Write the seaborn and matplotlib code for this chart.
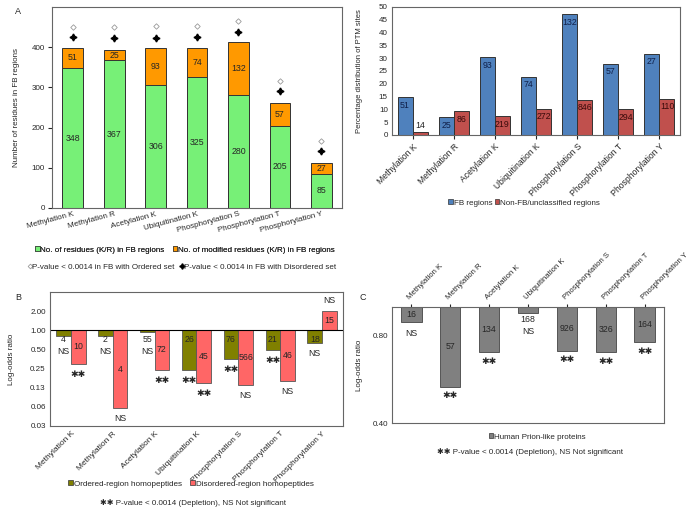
import matplotlib
matplotlib.use("Agg")
import matplotlib.pyplot as plt
import matplotlib.patches as mpatches
from matplotlib.lines import Line2D
import numpy as np
import pandas as pd
import seaborn as sns

# categories shared by all panels
ptm = ["Methylation K", "Methylation R", "Acetylation K", "Ubiquitination K",
       "Phosphorylation S", "Phosphorylation T", "Phosphorylation Y"]

# A: residues in FB regions (stacked)
fb_residues = [348, 367, 306, 325, 280, 205, 85]
fb_modified = [51, 25, 93, 74, 132, 57, 27]
pval_ordered_A = [450, 450, 452, 452, 465, 316, 167]
pval_disordered_A = [425, 422, 424, 426, 437, 291, 142]

# top right: percentage distribution of PTM sites
pct_fb = [14.8, 6.9, 30.4, 22.7, 47.2, 27.8, 31.8]
pct_nonfb = [1.2, 9.3, 7.4, 10.3, 13.7, 10.0, 14.2]
n_fb = [51, 25, 93, 74, 132, 57, 27]
n_nonfb = [14, 86, 219, 272, 846, 294, 110]

# B: homopeptides log-odds ratio
lor_ordered = [0.81, 0.81, 0.93, 0.235, 0.36, 0.49, 0.62]
lor_disordered = [0.30, 0.059, 0.24, 0.149, 0.137, 0.16, 2.0]
n_ordered = [4, 2, 55, 26, 76, 21, 18]
n_disordered = [10, 4, 72, 45, 566, 46, 15]
sig_ordered = ["NS", "NS", "NS", "**", "**", "**", "NS"]
sig_disordered = ["**", "NS", "**", "**", "NS", "NS", "NS"]
B_ticklabels = ["0.03", "0.06", "0.13", "0.25", "0.50", "1.00", "2.00"]

# C: human prion-like proteins
lor_prion = [0.89, 0.533, 0.70, 0.954, 0.707, 0.70, 0.758]
n_prion = [16, 57, 134, 168, 926, 326, 164]
sig_prion = ["NS", "**", "**", "NS", "**", "**", "**"]
C_tickvals = [0.40, 0.80]
C_ticklabels = ["0.40", "0.80"]

GREEN, ORANGE = "#77f077", "#ff9900"
BLUE, RED = "#4f81bd", "#c0504d"
OLIVE, PINK = "#808000", "#ff6666"
GREY = "#808080"
EDGE = "#333333"
STARS = "\u2731\u2731"
FS = 5.8      # general text size
FL = 6.3      # bar label size

sns.set_style("white")
plt.rcParams["font.family"] = ["Liberation Sans", "DejaVu Sans"]
plt.rcParams["font.size"] = FS

W, H = 693, 513
fig = plt.figure(figsize=(W / 100, H / 100), dpi=100)


def box(x0, y0, x1, y1):
    # pixel box -> figure fraction
    return [x0 / W, 1 - y1 / H, (x1 - x0) / W, (y1 - y0) / H]


def frame(ax):
    for s in ax.spines.values():
        s.set_visible(True)
        s.set_color("#666666")
        s.set_linewidth(0.8)


def px_len(ax, v):
    a = ax.transData.transform((0, v))[1]
    b = ax.transData.transform((0, 0))[1]
    return abs(a - b)


def sig_text(s):
    return STARS if s == "**" else s


def sig_size(s):
    return 6.6 if s == "**" else FL


# ---------------- A ----------------
axA = fig.add_axes(box(52, 7, 342, 208))
dfA = pd.DataFrame({"ptm": ptm, "fb": fb_residues, "mod": fb_modified})
dfA["total"] = dfA["fb"] + dfA["mod"]
sns.barplot(data=dfA, x="ptm", y="total", color=ORANGE, saturation=1, width=0.5,
            edgecolor=EDGE, linewidth=0.7, errorbar=None, ax=axA)
sns.barplot(data=dfA, x="ptm", y="fb", color=GREEN, saturation=1, width=0.5,
            edgecolor=EDGE, linewidth=0.7, errorbar=None, ax=axA)
for i, (g, m) in enumerate(zip(fb_residues, fb_modified)):
    axA.text(i, g / 2, str(g), ha="center", va="center", fontsize=FL)
    axA.text(i, g + m / 2, str(m), ha="center", va="center", fontsize=FL)
x = np.arange(len(ptm))
axA.plot(x, pval_ordered_A, ls="none", marker="D", ms=2.8, mfc="white", mec="#999999", mew=0.6)
axA.plot(x, pval_disordered_A, ls="none", marker=(4, 1, 0), ms=5, color="black")
axA.set_ylim(0, 500)
axA.set_xlim(-0.5, 6.5)
axA.set_yticks([0, 100, 200, 300, 400])
axA.set_xlabel("")
axA.set_ylabel("Number of residues in FB regions", fontsize=FS)
axA.yaxis.set_label_coords(-0.11, 0.5)
axA.tick_params(axis="y", length=3, labelsize=FS, pad=2, left=True)
axA.tick_params(axis="x", length=0, labelsize=FS, pad=2)
plt.setp(axA.get_xticklabels(), rotation=15, ha="right", rotation_mode="anchor")
frame(axA)
fig.text(18 / W, 1 - 12 / H, "A", fontsize=6.5, ha="center", va="center")

legA1 = fig.legend(handles=[mpatches.Patch(fc=GREEN, ec=EDGE, lw=0.5, label="No. of residues (K/R) in FB regions"),
                            mpatches.Patch(fc=ORANGE, ec=EDGE, lw=0.5, label="No. of modified residues (K/R) in FB regions")],
                   loc="center", bbox_to_anchor=(185 / W, 1 - 250 / H), ncol=2, frameon=False,
                   handlelength=0.55, handleheight=0.55, handletextpad=0.1, columnspacing=1.0, fontsize=FS)
fig.add_artist(legA1)
fig.legend(handles=[Line2D([], [], ls="none", marker="D", ms=2.4, mfc="white", mec="#999999", mew=0.6,
                           label="P-value < 0.0014 in FB with Ordered set"),
                    Line2D([], [], ls="none", marker=(4, 1, 0), ms=4, color="black",
                           label="P-value < 0.0014 in FB with Disordered set")],
           loc="center", bbox_to_anchor=(182 / W, 1 - 267 / H), ncol=2, frameon=False,
           handlelength=0.5, handletextpad=0.1, columnspacing=0.6, fontsize=FS)

# ---------------- top right ----------------
axT = fig.add_axes(box(392, 7, 680, 135))
dfT = pd.DataFrame({"ptm": ptm * 2, "pct": pct_fb + pct_nonfb,
                    "region": ["FB regions"] * 7 + ["Non-FB/unclassified regions"] * 7})
sns.barplot(data=dfT, x="ptm", y="pct", hue="region", palette=[BLUE, RED], saturation=1,
            width=0.73, edgecolor=EDGE, linewidth=0.7, errorbar=None, legend=False, ax=axT)
axT.set_ylim(0, 50)
axT.set_xlim(-0.5, 6.5)
axT.set_yticks(range(0, 51, 5))
for cont, counts, col in zip(axT.containers, [n_fb, n_nonfb], ["#10204a", "#3a0a0a"]):
    for bar, n in zip(cont, counts):
        cx = bar.get_x() + bar.get_width() / 2
        top = bar.get_height()
        if px_len(axT, top) < 14:
            axT.annotate(str(n), (cx, top), xytext=(0, 6), textcoords="offset pixels",
                         ha="center", va="center", fontsize=FL, color="#222222")
        else:
            axT.annotate(str(n), (cx, top), xytext=(0, -8), textcoords="offset pixels",
                         ha="center", va="center", fontsize=FL, color=col)
axT.set_xlabel("")
axT.set_ylabel("Percentage distribution of PTM sites", fontsize=5.5)
axT.yaxis.set_label_coords(-0.10, 0.5)
axT.tick_params(axis="y", length=0, labelsize=FS, pad=3)
axT.tick_params(axis="x", length=3, labelsize=6.2, pad=2, bottom=True)
plt.setp(axT.get_xticklabels(), rotation=45, ha="right", rotation_mode="anchor")
frame(axT)
fig.legend(handles=[mpatches.Patch(fc=BLUE, ec=EDGE, lw=0.5, label="FB regions"),
                    mpatches.Patch(fc=RED, ec=EDGE, lw=0.5, label="Non-FB/unclassified regions")],
           loc="center", bbox_to_anchor=(524 / W, 1 - 203 / H), ncol=2, frameon=False,
           handlelength=0.55, handleheight=0.55, handletextpad=0.1, columnspacing=0.3, fontsize=FS)

# ---------------- B ----------------
axB = fig.add_axes(box(50, 292, 343, 426))
dfB = pd.DataFrame({"ptm": ptm * 2, "lor": np.log2(lor_ordered + lor_disordered),
                    "set": ["Ordered-region homopeptides"] * 7 + ["Disordered-region homopeptides"] * 7})
sns.barplot(data=dfB, x="ptm", y="lor", hue="set", palette=[OLIVE, PINK], saturation=1,
            width=0.7, edgecolor="#555555", linewidth=0.6, errorbar=None, legend=False, ax=axB)
axB.set_xlim(-0.5, 6.5)
axB.set_yticks(np.arange(-5, 2))
axB.set_yticklabels(B_ticklabels)
axB.set_ylim(-5, 2)
axB.axhline(0, color="black", lw=0.8)
for bar, n, s in zip(axB.containers[0], n_ordered, sig_ordered):
    cx = bar.get_x() + bar.get_width() / 2
    d = px_len(axB, bar.get_height())
    axB.annotate(str(n), (cx, 0), xytext=(0, -9.5), textcoords="offset pixels",
                 ha="center", va="center", fontsize=FL)
    axB.annotate(sig_text(s), (cx, 0), xytext=(0, -max(d + 10.5, 21)), textcoords="offset pixels",
                 ha="center", va="center", fontsize=sig_size(s))
for bar, n, s in zip(axB.containers[1], n_disordered, sig_disordered):
    cx = bar.get_x() + bar.get_width() / 2
    h = bar.get_height()
    axB.text(cx, h / 2, str(n), ha="center", va="center", fontsize=FL)
    axB.annotate(sig_text(s), (cx, h), xytext=(0, 10.5 if h > 0 else -10.5), textcoords="offset pixels",
                 ha="center", va="center", fontsize=sig_size(s))
axB.set_xlabel("")
axB.set_ylabel("Log-odds ratio", fontsize=FS)
axB.yaxis.set_label_coords(-0.12, 0.5)
axB.tick_params(axis="y", length=0, labelsize=FS, pad=3)
axB.tick_params(axis="x", length=0, labelsize=6.0, pad=3)
plt.setp(axB.get_xticklabels(), rotation=45, ha="right", rotation_mode="anchor")
frame(axB)
fig.text(18 / W, 1 - 298 / H, "B", fontsize=6.5, ha="center", va="center")
fig.legend(handles=[mpatches.Patch(fc=OLIVE, ec=EDGE, lw=0.5, label="Ordered-region homopeptides"),
                    mpatches.Patch(fc=PINK, ec=EDGE, lw=0.5, label="Disordered-region homopeptides")],
           loc="center", bbox_to_anchor=(191 / W, 1 - 484 / H), ncol=2, frameon=False,
           handlelength=0.6, handleheight=0.6, handletextpad=0.1, columnspacing=1.0, fontsize=5.9)
fig.text(193 / W, 1 - 503 / H, STARS + " P-value < 0.0014 (Depletion), NS Not significant",
         ha="center", va="center", fontsize=FS)

# ---------------- C ----------------
axC = fig.add_axes(box(392, 307, 664, 423))
dfC = pd.DataFrame({"ptm": ptm, "lor": np.log2(lor_prion)})
sns.barplot(data=dfC, x="ptm", y="lor", color=GREY, saturation=1, width=0.52,
            edgecolor="#444444", linewidth=0.6, errorbar=None, ax=axC)
axC.set_ylim(np.log2(0.4), 0)
axC.set_xlim(-0.5, 6.5)
axC.set_yticks(np.log2(C_tickvals))
axC.set_yticklabels(C_ticklabels)
for bar, n, s in zip(axC.containers[0], n_prion, sig_prion):
    cx = bar.get_x() + bar.get_width() / 2
    h = bar.get_height()
    d = px_len(axC, h)
    if d < 12:
        axC.annotate(str(n), (cx, h), xytext=(0, -7), textcoords="offset pixels",
                     ha="center", va="center", fontsize=FL)
        axC.annotate(sig_text(s), (cx, h), xytext=(0, -19), textcoords="offset pixels",
                     ha="center", va="center", fontsize=sig_size(s))
    else:
        axC.text(cx, h / 2, str(n), ha="center", va="center", fontsize=FL)
        axC.annotate(sig_text(s), (cx, h), xytext=(0, -12 if s == "NS" else -9),
                     textcoords="offset pixels", ha="center", va="center", fontsize=sig_size(s))
axC.xaxis.tick_top()
axC.set_xlabel("")
axC.set_ylabel("Log-odds ratio", fontsize=FS)
axC.yaxis.set_label_coords(-0.107, 0.5)
axC.tick_params(axis="y", length=0, labelsize=FS, pad=3)
axC.tick_params(axis="x", length=2, labelsize=5.6, pad=2, top=True, bottom=False)
plt.setp(axC.get_xticklabels(), rotation=45, ha="left", rotation_mode="anchor")
frame(axC)
fig.text(363 / W, 1 - 298 / H, "C", fontsize=6.5, ha="center", va="center")
fig.legend(handles=[mpatches.Patch(fc=GREY, ec=EDGE, lw=0.5, label="Human Prion-like proteins")],
           loc="center", bbox_to_anchor=(537 / W, 1 - 437 / H), frameon=False,
           handlelength=0.55, handleheight=0.55, handletextpad=0.1, fontsize=FS)
fig.text(530 / W, 1 - 452 / H, STARS + " P-value < 0.0014 (Depletion), NS Not significant",
         ha="center", va="center", fontsize=FS)

fig.savefig("out.png", dpi=100)
